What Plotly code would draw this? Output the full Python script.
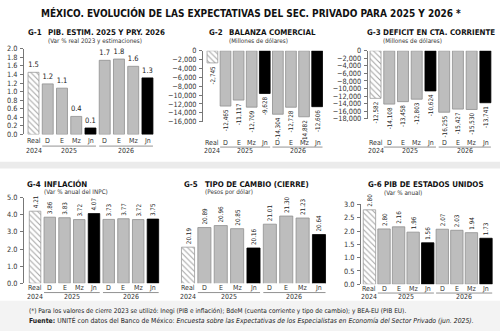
import plotly.graph_objects as go

W, H = 500, 336
FONT = "DejaVu Sans Condensed, Liberation Sans Narrow, Roboto, sans-serif"

# ---------------- data ----------------
categories = ["Real", "D", "E", "Mz", "Jn", "D", "E", "Mz", "Jn"]
years = ["2024", "2025", "2026"]

g1_pib = [1.45, 1.18, 1.08, 0.42, 0.15, 1.73, 1.76, 1.59, 1.32]
g1_text = ["1.5", "1.2", "1.1", "0.4", "0.1", "1.7", "1.8", "1.6", "1.3"]

g2_balanza = [-2745, -12465, -11117, -12709, -9628, -14304, -12728, -14882, -12606]
g3_deficit = [-12582, -14108, -13458, -12803, -10624, -16255, -15427, -15530, -13741]

g4_inflacion = [4.21, 3.86, 3.83, 3.72, 4.07, 3.73, 3.77, 3.72, 3.75]
g5_tipo_cambio = [20.19, 20.89, 20.96, 20.85, 20.16, 21.01, 21.30, 21.23, 20.64]
g6_pib_eu = [2.80, 2.08, 2.16, 1.96, 1.56, 2.07, 2.03, 1.94, 1.73]
g6_text = ["2.80", "2.80", "2.16", "1.96", "1.56", "2.07", "2.03", "1.94", "1.73"]

# ---------------- styles ----------------
GRAY = "#bdbdbd"
fill = ["white", GRAY, GRAY, GRAY, "#000000", GRAY, GRAY, GRAY, "#000000"]
lines = ["#9a9a9a", "#8f8f8f", "#8f8f8f", "#8f8f8f", "#000000", "#8f8f8f", "#8f8f8f", "#8f8f8f", "#000000"]
shapes_pat = ["\\", "", "", "", "", "", "", "", ""]

TITLE_SIZE = 7.9
SUB_SIZE = 6.3
TICK_SIZE = 7.3
CAT_SIZE = 7
VAL_SIZE = 6.3


def fx(x):
    return x / W


def fy(y):
    return 1 - y / H


panels = [
    dict(code="G-1", title="PIB. ESTIM. 2025 Y PRY. 2026", sub="(Var % real 2023 y estimaciones)",
         vals=g1_pib, text=g1_text, angle=0,
         xdom=(24, 156), xr=(-0.667, 8.6), ydom=(46, 134), yr=(0, 2.0), dtick=0.2, fmt=".1f",
         showy=True, width=0.77, codex=26, titlex=45.5, suby=38, ty=29, caty=140.5, yeary=151, uline=146),
    dict(code="G-2", title="BALANZA COMERCIAL", sub="(Millones de dólares)",
         vals=g2_balanza, text=[f"{v:,}" for v in g2_balanza], angle=-90,
         xdom=(203, 325), xr=(-0.72, 8.6), ydom=(48, 121), yr=(-16000, 0), dtick=2000, fmt=",d",
         showy=True, width=0.82, codex=206.5, titlex=226.5, suby=38, ty=29, caty=142.5, yeary=151.5, uline=147),
    dict(code="G-3", title="DEFICIT EN CTA. CORRIENTE", sub="(Millones de dólares)",
         vals=g3_deficit, text=[f"{v:,}" for v in g3_deficit], angle=-90,
         xdom=(367.7, 495), xr=(-0.57, 8.7), ydom=(48, 118), yr=(-18000, 0), dtick=2000, fmt=",d",
         showy=True, width=0.8, codex=365, titlex=380.5, suby=38, ty=29, caty=142.5, yeary=151.5, uline=147),
    dict(code="G-4", title="INFLACIÓN", sub="(Var % anual del INPC)",
         vals=g4_inflacion, text=[f"{v:.2f}" for v in g4_inflacion], angle=-90,
         xdom=(24, 160), xr=(-0.75, 8.48), ydom=(199, 287), yr=(0, 5.0), dtick=1.0, fmt=".1f",
         showy=True, width=0.78, codex=24.5, titlex=41.5, suby=193, ty=185, caty=292, yeary=301.5, uline=296.5),
    dict(code="G-5", title="TIPO DE CAMBIO (CIERRE)", sub="(Pesos por dólar)",
         vals=g5_tipo_cambio, text=[f"{v:.2f}" for v in g5_tipo_cambio], angle=-90,
         xdom=(180, 327), xr=(-0.49, 8.49), ydom=(196, 287), yr=(18.9, 22.06), dtick=1, fmt=".1f",
         showy=False, width=0.8, codex=181.5, titlex=202.5, suby=193.5, ty=185.5, caty=292, yeary=301.5, uline=296.5),
    dict(code="G-6", title="PIB DE ESTADOS UNIDOS", sub="(Var % anual)",
         vals=g6_pib_eu, text=g6_text, angle=-90,
         xdom=(361, 494), xr=(-0.58, 8.55), ydom=(206, 288), yr=(0, 3.0), dtick=0.5, fmt=".1f",
         showy=True, width=0.85, codex=366, titlex=382, suby=193.5, ty=185.5, caty=292.5, yeary=301.5, uline=297),
]

fig = go.Figure()
annotations = []
shapes = []

# background separators
shapes.append(dict(type="rect", xref="paper", yref="paper", x0=0, x1=1, y0=fy(169), y1=fy(162),
                   fillcolor="#ebebeb", line=dict(width=0), layer="below"))
shapes.append(dict(type="rect", xref="paper", yref="paper", x0=0, x1=1, y0=0, y1=fy(305),
                   fillcolor="#f3f3f3", line=dict(width=0), layer="below"))

for i, p in enumerate(panels, start=1):
    xa = "x" if i == 1 else f"x{i}"
    ya = "y" if i == 1 else f"y{i}"
    xs = list(range(len(categories)))
    fig.add_trace(go.Bar(
        x=xs, y=p["vals"], xaxis=xa, yaxis=ya, width=p["width"],
        marker=dict(color=fill, line=dict(color=lines, width=0.8),
                    pattern=dict(shape=shapes_pat, fgcolor="#9a9a9a", bgcolor="white", size=4, solidity=0.25)),
        text=p["text"], textposition="outside", textangle=p["angle"],
        textfont=dict(family=FONT, size=VAL_SIZE if p["angle"] else 7.5, color="#222"),
        constraintext="none", cliponaxis=(p["code"] == "G-5"),
        showlegend=False, hoverinfo="skip",
    ))
    xkey = "xaxis" if i == 1 else f"xaxis{i}"
    ykey = "yaxis" if i == 1 else f"yaxis{i}"
    fig.update_layout({
        xkey: dict(domain=[fx(p["xdom"][0]), fx(p["xdom"][1])], range=list(p["xr"]), anchor=ya,
                   showticklabels=False, ticks="", showgrid=False, zeroline=False, showline=False,
                   fixedrange=True),
        ykey: dict(domain=[fy(p["ydom"][1]), fy(p["ydom"][0])], range=list(p["yr"]), anchor=xa,
                   showgrid=False, zeroline=False, dtick=p["dtick"], tickformat=p["fmt"],
                   showline=p["showy"], linecolor="#777", linewidth=1,
                   ticks="outside" if p["showy"] else "", ticklen=3, tickcolor="#777",
                   showticklabels=p["showy"], tickfont=dict(family=FONT, size=TICK_SIZE, color="#333"),
                   ticklabelstandoff=1, fixedrange=True),
    })
    # titles
    annotations.append(dict(text=f"<b>{p['code']}</b>", x=fx(p["codex"]), y=fy(p["ty"]), xref="paper", yref="paper",
                            xanchor="left", yanchor="middle", showarrow=False,
                            font=dict(family=FONT, size=TITLE_SIZE, color="#111")))
    annotations.append(dict(text=f"<b>{p['title']}</b>", x=fx(p["titlex"]), y=fy(p["ty"]), xref="paper", yref="paper",
                            xanchor="left", yanchor="middle", showarrow=False,
                            font=dict(family=FONT, size=TITLE_SIZE, color="#111")))
    annotations.append(dict(text=p["sub"], x=fx(p["titlex"]), y=fy(p["suby"]), xref="paper", yref="paper",
                            xanchor="left", yanchor="middle", showarrow=False,
                            font=dict(family=FONT, size=SUB_SIZE, color="#333")))
    # category labels
    for k, c in enumerate(categories):
        annotations.append(dict(text=c, x=k, y=fy(p["caty"]), xref=xa, yref="paper",
                                xanchor="center", yanchor="middle", showarrow=False,
                                font=dict(family=FONT, size=CAT_SIZE, color="#333")))
    # year labels
    for yr_label, xc in zip(years, [0, 2.5, 6.5]):
        annotations.append(dict(text=yr_label, x=xc, y=fy(p["yeary"]), xref=xa, yref="paper",
                                xanchor="center", yanchor="middle", showarrow=False,
                                font=dict(family=FONT, size=CAT_SIZE, color="#333")))
    hw = p["width"] / 2
    for a, b in [(1, 4), (5, 8)]:
        shapes.append(dict(type="line", xref=xa, yref="paper", x0=a - hw, x1=b + hw,
                           y0=fy(p["uline"]), y1=fy(p["uline"]), line=dict(color="#777", width=0.8)))

# main title
annotations.append(dict(text="<b>MÉXICO. EVOLUCIÓN DE LAS EXPECTATIVAS DEL SEC. PRIVADO PARA 2025 Y 2026 *</b>",
                        x=fx(251), y=fy(9.5), xref="paper", yref="paper", xanchor="center", yanchor="middle",
                        showarrow=False, font=dict(family=FONT, size=10, color="#111")))
# footnotes
annotations.append(dict(text="(*) Para los valores de cierre 2023 se utilizó: Inegi (PIB e inflación); BdeM (cuenta corriente y tipo de cambio); y BEA-EU (PIB EU).",
                        x=fx(27), y=fy(315.5), xref="paper", yref="paper", xanchor="left", yanchor="middle",
                        showarrow=False, font=dict(family=FONT, size=6.5, color="#222")))
annotations.append(dict(text="<b>Fuente:</b> UNITÉ con datos del Banco de México: <i>Encuesta sobre las Expectativas de los Especialistas en Economía del Sector Privado (jun. 2025).</i>",
                        x=fx(27), y=fy(325.5), xref="paper", yref="paper", xanchor="left", yanchor="middle",
                        showarrow=False, font=dict(family=FONT, size=6.8, color="#222")))

fig.update_layout(
    width=W, height=H, margin=dict(l=0, r=0, t=0, b=0),
    paper_bgcolor="white", plot_bgcolor="rgba(0,0,0,0)",
    annotations=annotations, shapes=shapes, bargap=0.2,
    font=dict(family=FONT),
)

fig.write_html("out.html")
